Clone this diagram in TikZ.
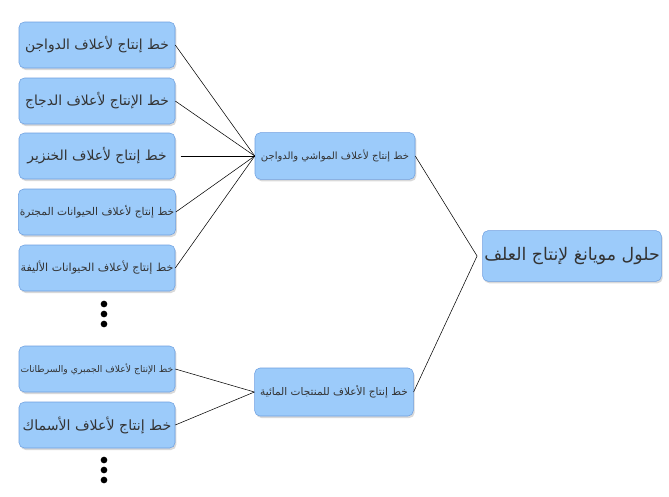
\documentclass[tikz,border=0pt]{standalone}
\usepackage{fontspec}
\newfontfamily\arabicfont[Script=Arabic]{DejaVu Sans}
\TeXXeTstate=1
\usetikzlibrary{shadows}
\definecolor{boxfill}{HTML}{9CCBFA}
\definecolor{boxline}{HTML}{6E9FE0}
\definecolor{txtgray}{HTML}{333333}
\tikzset{
  feedbox/.style={draw=boxline,fill=boxfill,rounded corners=4pt,
    minimum width=117pt,minimum height=34.5pt,inner sep=1pt,
    text=txtgray,drop shadow={shadow xshift=1pt,shadow yshift=-1.5pt,opacity=.3}},
  dot/.style={circle,fill=black,inner sep=0pt,minimum size=5pt}
}
\newcommand{\ar}[1]{\arabicfont\beginR #1\endR}
\begin{document}
\begin{tikzpicture}[x=0.75pt,y=-0.75pt]
  \useasboundingbox (0,0) rectangle (669,497);
  % left column
  \node[feedbox] (poultry) at (97,45) {\fontsize{10.4}{12}\selectfont\ar{خط إنتاج لأعلاف الدواجن}};
  \node[feedbox] (chicken) at (97,101) {\fontsize{10.4}{12}\selectfont\ar{خط الإنتاج لأعلاف الدجاج}};
  \node[feedbox] (pig) at (97,156) {\fontsize{10.4}{12}\selectfont\ar{خط إنتاج لأعلاف الخنزير}};
  \node[feedbox] (rumin) at (97,212) {\fontsize{8}{10}\selectfont\ar{خط إنتاج لأعلاف الحيوانات المجترة}};
  \node[feedbox] (pet) at (97,268) {\fontsize{8.3}{10}\selectfont\ar{خط إنتاج لأعلاف الحيوانات الأليفة}};
  \node[feedbox] (shrimp) at (97,369) {\fontsize{6.9}{8}\selectfont\ar{خط الإنتاج لأعلاف الجمبري والسرطانات}};
  \node[feedbox] (fish) at (97,425) {\fontsize{10.6}{12}\selectfont\ar{خط إنتاج لأعلاف الأسماك}};
  \node[dot] (d1) at (104,304) {};
  \node[dot] (d2) at (104,314) {};
  \node[dot] (d3) at (104,324) {};
  \node[dot] (d4) at (104,460) {};
  \node[dot] (d5) at (104,470) {};
  \node[dot] (d6) at (104,480) {};
  % middle column
  \node[feedbox,minimum width=120pt,minimum height=35pt] (live) at (335,156) {\fontsize{7.5}{9}\selectfont\ar{خط إنتاج  لأعلاف المواشي والدواجن}};
  \node[feedbox,minimum width=119pt,minimum height=36pt] (aqua) at (334,392) {\fontsize{7.9}{9}\selectfont\ar{خط إنتاج الأعلاف للمنتجات المائية}};
  % right
  \node[feedbox,minimum width=134pt,minimum height=38pt] (muyang) at (572,256) {\fontsize{13}{15}\selectfont\ar{حلول مويانغ لإنتاج العلف}};
  \coordinate (join) at ([xshift=-4pt]muyang.west);
  % connectors
  \foreach \n in {poultry,chicken,rumin,pet}
    \draw (\n.east) -- (live.west);
  \draw[shorten <=4pt] (pig.east) -- (live.west);
  \foreach \n in {shrimp,fish}
    \draw (\n.east) -- (aqua.west);
  \draw (live.east) -- (join);
  \draw (aqua.east) -- (join);
\end{tikzpicture}
\end{document}
